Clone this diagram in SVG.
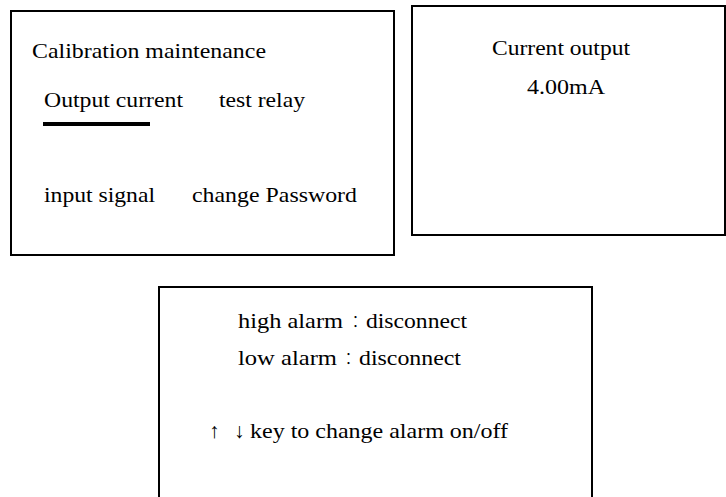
<svg xmlns="http://www.w3.org/2000/svg" width="726" height="497" viewBox="0 0 726 497">
<style>
.box{fill:#fff;stroke:#000;stroke-width:2}
.t{font-family:"Liberation Serif","Noto Sans CJK SC",serif;font-size:21px;fill:#000}
.c{font-family:"Noto Sans CJK TC",sans-serif;font-size:17px;font-weight:300}
</style>
<rect width="726" height="497" fill="#fff"/>
<g id="menu">
<rect class="box" x="11" y="11" width="383" height="244"/>
<text class="t" x="32" y="58" textLength="234" lengthAdjust="spacingAndGlyphs">Calibration maintenance</text>
<text class="t" x="44" y="107" textLength="139" lengthAdjust="spacingAndGlyphs">Output current</text>
<text class="t" x="219" y="107" textLength="86" lengthAdjust="spacingAndGlyphs">test relay</text>
<rect x="43" y="122" width="107" height="4" fill="#000"/>
<text class="t" x="44" y="202" textLength="111" lengthAdjust="spacingAndGlyphs">input signal</text>
<text class="t" x="192" y="202" textLength="165" lengthAdjust="spacingAndGlyphs">change Password</text>
</g>
<g id="current">
<rect class="box" x="412" y="6" width="313" height="229"/>
<text class="t" x="492" y="55" textLength="138" lengthAdjust="spacingAndGlyphs">Current output</text>
<text class="t" x="527" y="94" textLength="78" lengthAdjust="spacingAndGlyphs">4.00mA</text>
</g>
<g id="alarm">
<rect class="box" x="159" y="287" width="433" height="220"/>
<text class="t" x="238" y="328"><tspan textLength="105" lengthAdjust="spacingAndGlyphs">high alarm</tspan><tspan class="c" x="347">：</tspan><tspan x="366" textLength="101" lengthAdjust="spacingAndGlyphs">disconnect</tspan></text>
<text class="t" x="238" y="365"><tspan textLength="99" lengthAdjust="spacingAndGlyphs">low alarm</tspan><tspan class="c" x="340">：</tspan><tspan x="359" textLength="102" lengthAdjust="spacingAndGlyphs">disconnect</tspan></text>
<text class="t" x="209" y="438">↑<tspan x="234">↓</tspan><tspan x="250" textLength="258" lengthAdjust="spacingAndGlyphs">key to change alarm on/off</tspan></text>
</g>
<g id="connectors"/>
</svg>
